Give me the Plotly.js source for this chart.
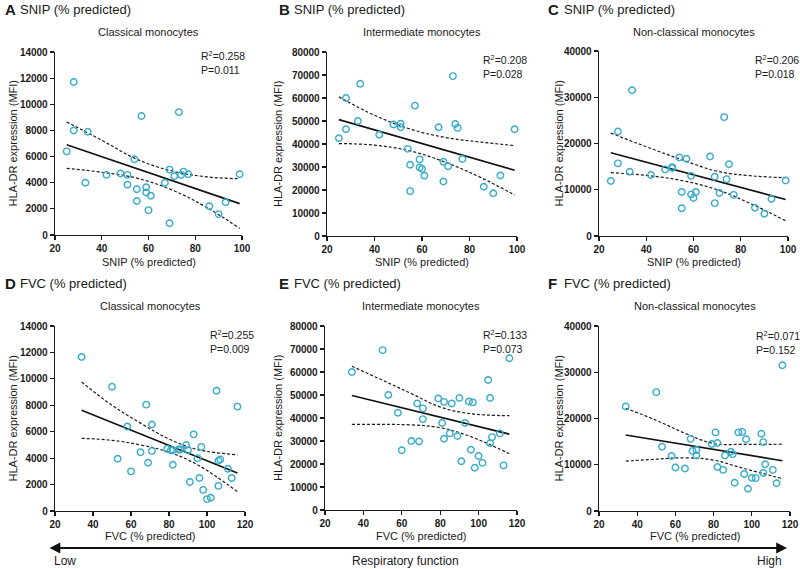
<!DOCTYPE html>
<html>
<head>
<meta charset="utf-8">
<script src="https://cdn.plot.ly/plotly-3.0.1.min.js"></script>
<style>
  html, body { margin: 0; padding: 0; background: #fff; }
  #plot { width: 800px; height: 569px; }
</style>
</head>
<body>
<div id="plot"></div>
<script>
// x values, one per patient (row 1 = SNIP, row 2 = FVC)
const snipX = [25, 28, 28, 33, 34, 42, 48, 51, 51, 54, 55, 55, 57, 59, 59, 60, 61, 67, 69, 69, 71, 73, 74, 75, 77, 86, 90, 93, 99];
const fvcX = [34, 50, 53, 58, 60, 65, 68, 69, 71, 71, 79, 81, 82, 82, 85, 86, 89, 90, 91, 93, 95, 96, 97, 98, 100, 102, 105, 106, 106, 107, 111, 113, 116];

// HLA-DR MFI
const snipClassical = [6400, 11700, 8000, 4000, 7900, 4600, 4700, 4600, 3850, 5800, 3500, 2600, 9100, 3650, 3250, 1900, 3000, 4000, 5000, 900, 4500, 9400, 4600, 4850, 4650, 2200, 1600, 2500, 4650];
const snipIntermediate = [42500, 60000, 46400, 50000, 66200, 44000, 48500, 48800, 47300, 37900, 31000, 19500, 56700, 33300, 29800, 29200, 26200, 47300, 32300, 23700, 30300, 69500, 48700, 47000, 33500, 21400, 18600, 26300, 46400];
const snipNonClassical = [11900, 15700, 22600, 13900, 31500, 13200, 14400, 14900, 14700, 17000, 9500, 6000, 16700, 13000, 9000, 8200, 9500, 17200, 12800, 7100, 9300, 25700, 12300, 15500, 8900, 6100, 4800, 8000, 12000];
const fvcClassical = [11650, 9400, 3950, 6400, 3000, 4450, 8050, 3650, 6550, 4550, 4700, 4600, 4600, 3500, 4650, 4650, 5000, 4600, 2200, 5800, 4000, 2500, 4850, 1600, 900, 1000, 9100, 1900, 3800, 3900, 3200, 2500, 7900];
const fvcIntermediate = [60000, 69500, 50000, 42300, 26000, 30000, 46300, 29800, 44200, 39500, 48500, 37800, 47000, 31000, 33300, 46300, 32200, 48700, 21200, 37800, 47200, 26200, 46800, 18400, 23500, 20500, 56500, 48700, 29000, 31700, 33300, 19400, 66000];
const fvcNonClassical = [22600, 25700, 13900, 11900, 9400, 9200, 15600, 13000, 13200, 12000, 14500, 17000, 14700, 9500, 8900, 12000, 12800, 12300, 6100, 17000, 17100, 8000, 15500, 4800, 7150, 7100, 16700, 14900, 8200, 10100, 8900, 6000, 31500];

// regression lines and 95% bands
const snipLineX = [25, 99];
const fvcLineX = [34, 116];
const snipBandX = [25, 40, 55, 70, 85, 99];
const fvcBandX = [34, 50, 65, 80, 95, 116];

const aLine = [6900, 2400];
const aUpper = [8650, 7250, 5800, 4900, 4450, 4300];
const aLower = [5100, 4800, 4350, 3450, 2100, 500];
const bLine = [50600, 28600];
const bUpper = [60500, 52500, 46500, 42800, 40800, 39300];
const bLower = [40200, 39500, 37000, 32000, 25300, 17800];
const cLine = [18000, 7900];
const cUpper = [22250, 19300, 16500, 14000, 13000, 12600];
const cLower = [13700, 13100, 12000, 10000, 6800, 3300];
const dLine = [7620, 2880];
const dUpper = [9760, 8000, 6650, 5450, 4650, 4260];
const dLower = [5500, 5350, 5000, 4450, 3500, 1460];
const eLine = [49760, 33000];
const eUpper = [62500, 56400, 50600, 44800, 41950, 41000];
const eLower = [37200, 37200, 37000, 35800, 32200, 24500];
const fLine = [16430, 10880];
const fUpper = [22200, 19600, 16800, 14600, 14400, 14450];
const fLower = [10800, 11200, 11500, 11000, 9300, 7000];

const letters = ['A', 'B', 'C', 'D', 'E', 'F'];
const measures = ['SNIP (% predicted)', 'SNIP (% predicted)', 'SNIP (% predicted)', 'FVC (% predicted)', 'FVC (% predicted)', 'FVC (% predicted)'];
const subsets = ['Classical monocytes', 'Intermediate monocytes', 'Non-classical monocytes', 'Classical monocytes', 'Intermediate monocytes', 'Non-classical monocytes'];
const rSquared = ['0.258', '0.208', '0.206', '0.255', '0.133', '0.071'];
const pValues = ['0.011', '0.028', '0.018', '0.009', '0.073', '0.152'];
const yMax = [14000, 80000, 40000, 14000, 80000, 40000];
const yStep = [2000, 10000, 10000, 2000, 10000, 10000];

const W = 800, H = 569;
const FONT = 'Liberation Sans, Arial, Helvetica, sans-serif';
const CYAN = '#35abc9';

// plot boxes in pixels: left, right, top, bottom
const boxes = [
  [55, 242, 52, 235],
  [327, 517, 52, 236],
  [599, 788, 51, 236],
  [55, 245, 326, 511],
  [325, 517, 326, 510],
  [599, 790, 326, 511]
];
const statPos = [[199, 47], [481, 51], [753, 51], [208, 326], [481, 326], [754, 327]];

const px = x => x / W;
const py = y => 1 - y / H;

const panels = [
  { x: snipX, y: snipClassical, lx: snipLineX, line: aLine, bx: snipBandX, up: aUpper, lo: aLower },
  { x: snipX, y: snipIntermediate, lx: snipLineX, line: bLine, bx: snipBandX, up: bUpper, lo: bLower },
  { x: snipX, y: snipNonClassical, lx: snipLineX, line: cLine, bx: snipBandX, up: cUpper, lo: cLower },
  { x: fvcX, y: fvcClassical, lx: fvcLineX, line: dLine, bx: fvcBandX, up: dUpper, lo: dLower },
  { x: fvcX, y: fvcIntermediate, lx: fvcLineX, line: eLine, bx: fvcBandX, up: eUpper, lo: eLower },
  { x: fvcX, y: fvcNonClassical, lx: fvcLineX, line: fLine, bx: fvcBandX, up: fUpper, lo: fLower }
];

const traces = [];
const layout = {
  width: W, height: H,
  margin: { l: 0, r: 0, t: 0, b: 0 },
  paper_bgcolor: '#fff', plot_bgcolor: '#fff',
  showlegend: false,
  font: { family: FONT, color: '#1a1a1a' },
  annotations: []
};

// paper annotation placed by pixel, centred unless told otherwise
function note(x, y, text, size, extra) {
  return Object.assign({
    xref: 'paper', yref: 'paper', x: px(x), y: py(y), text: text,
    xanchor: 'center', yanchor: 'middle',
    showarrow: false, font: { family: FONT, size: size, color: '#1a1a1a' }
  }, extra || {});
}

panels.forEach((p, i) => {
  const n = i === 0 ? '' : String(i + 1);
  const xa = 'x' + n, ya = 'y' + n;
  const dash = { color: '#1a1a1a', width: 1.2, dash: '3px,2px', shape: 'spline', smoothing: 1.1 };
  traces.push({ x: p.bx, y: p.up, xaxis: xa, yaxis: ya, mode: 'lines', line: dash, hoverinfo: 'skip' });
  traces.push({ x: p.bx, y: p.lo, xaxis: xa, yaxis: ya, mode: 'lines', line: dash, hoverinfo: 'skip' });
  traces.push({ x: p.lx, y: p.line, xaxis: xa, yaxis: ya, mode: 'lines', line: { color: '#111', width: 1.6 }, hoverinfo: 'skip' });
  traces.push({
    x: p.x, y: p.y, xaxis: xa, yaxis: ya, mode: 'markers', type: 'scatter', cliponaxis: false,
    marker: { symbol: 'circle-open', size: 6.5, color: CYAN, line: { color: CYAN, width: 1.4 } }
  });

  const b = boxes[i];
  const row2 = i >= 3;
  const axisBase = {
    showline: true, linecolor: '#1a1a1a', linewidth: 1.3, ticks: 'outside', ticklen: 4,
    tickwidth: 1.2, tickcolor: '#1a1a1a', showgrid: false, zeroline: false, fixedrange: true,
    tickformat: 'd',
    tickfont: { family: FONT, size: 10, weight: 700, color: '#1a1a1a' }
  };
  layout['xaxis' + n] = Object.assign({}, axisBase, {
    domain: [px(b[0]), px(b[1])], anchor: ya,
    range: row2 ? [20, 120] : [20, 100], tick0: 20, dtick: 20
  });
  layout['yaxis' + n] = Object.assign({}, axisBase, {
    domain: [py(b[3]), py(b[2])], anchor: xa,
    range: [0, yMax[i]], tick0: 0, dtick: yStep[i]
  });

  const cx = (b[0] + b[1]) / 2;
  const col = i % 3;
  const letterX = [3, 277, 546][col];
  const textX = [18, 292, 562][col];
  const topY = row2 ? 283 : 10;
  layout.annotations.push(note(letterX, topY, '<b>' + letters[i] + '</b>', 15, { xanchor: 'left' }));
  layout.annotations.push(note(textX, topY, measures[i], 13, { xanchor: 'left' }));
  layout.annotations.push(note(cx, row2 ? 306 : 32, subsets[i], 11));
  layout.annotations.push(note(cx, row2 ? 536 : 262, measures[i], 11));
  layout.annotations.push(note([12, 278, 558][col], (b[2] + b[3]) / 2, 'HLA-DR expression (MFI)', 11, { textangle: -90 }));
  const s = statPos[i];
  layout.annotations.push(note(s[0], s[1], 'R<sup>2</sup>=' + rSquared[i] + '<br>P=' + pValues[i], 10.5,
    { xanchor: 'left', yanchor: 'top', align: 'left' }));
});

// respiratory function arrow
layout.annotations.push({
  xref: 'paper', yref: 'paper', x: px(787), y: py(548), axref: 'pixel', ayref: 'pixel',
  ax: -(787 - 48), ay: 0, text: '', showarrow: true, arrowside: 'end+start',
  arrowhead: 2, arrowsize: 1.2, arrowwidth: 1.8, arrowcolor: '#111', standoff: 0, startstandoff: 0
});
layout.annotations.push(note(52, 561, 'Low', 12, { xanchor: 'left' }));
layout.annotations.push(note(405, 561, 'Respiratory function', 12));
layout.annotations.push(note(784, 561, 'High', 12, { xanchor: 'right' }));

Plotly.newPlot('plot', traces, layout, { displayModeBar: false, staticPlot: true });
</script>
</body>
</html>
